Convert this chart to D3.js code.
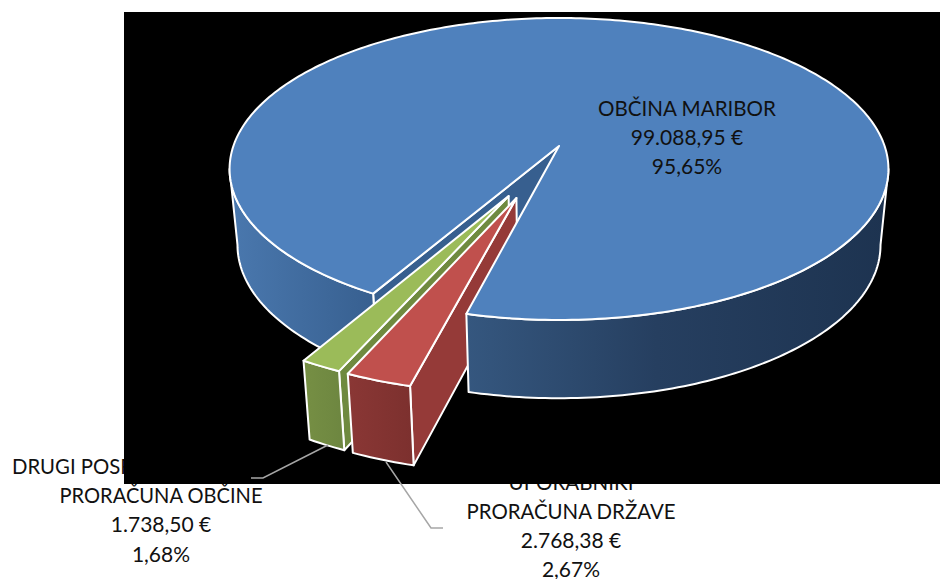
<!DOCTYPE html>
<html><head><meta charset="utf-8">
<script src="https://cdn.jsdelivr.net/npm/d3@7"></script>
<style>html,body{margin:0;padding:0;background:#fff;overflow:hidden}svg{display:block}text{font-family:Lato,sans-serif;font-size:21px;fill:#111;text-anchor:middle}</style>
</head><body><svg id="c" width="940" height="579"></svg>
<script>
const categories = ["OBČINA MARIBOR", "UPORABNIKI PRORAČUNA DRŽAVE", "DRUGI POSREDNI UPORABNIKI PRORAČUNA OBČINE"];
const values = [99088.95, 2768.38, 1738.50];
const valueLabels = ["99.088,95 €", "2.768,38 €", "1.738,50 €"];
const percentLabels = ["95,65%", "2,67%", "1,68%"];
const explode = [0, 0.357, 0.355];
const explodeTurn = [0, 1.5, -2.2];
const topColors = ["#4f81bd", "#c0504d", "#9bbb59"];

const svg = d3.select("#c");
const cx = 559, cy = 146, k = 0.152;
const sx = d3.scaleLinear().domain([-1, 1]).range([cx - 325.6, cx + 325.6]);
const sy = d3.scaleLinear().domain([-1, 1]).range([cy - 147.5, cy + 147.5]);
const rad = d => d * Math.PI / 180;

function project(u, v, low) {
  const w = 1 - k * v;
  const X = sx(u / w), Y = sy(v / w);
  if (!low) return [X, Y];
  return [cx + (X - cx) * 0.976, Y + 76 + (Y - 168) * 0.015];
}
const pie = d3.pie().sort(null).startAngle(rad(209.7)).endAngle(rad(209.7) + 2 * Math.PI);
const arcs = pie(values);
function offset(i) {
  const mid = (arcs[i].startAngle + arcs[i].endAngle) / 2 + rad(explodeTurn[i]);
  return [explode[i] * Math.sin(mid), -explode[i] * Math.cos(mid)];
}
function rim(i, a0, a1, low) {
  const [ou, ov] = offset(i), n = Math.max(2, Math.ceil(Math.abs(a1 - a0) / rad(1)));
  return d3.range(n + 1).map(j => {
    const a = a0 + (a1 - a0) * j / n;
    return project(ou + Math.sin(a), ov - Math.cos(a), low);
  });
}
function apex(i, low) { const [ou, ov] = offset(i); return project(ou, ov, low); }
const line = d3.line();
const closed = pts => line(pts) + "Z";

const defs = svg.append("defs");
function grad(id, stops) {
  const g = defs.append("linearGradient").attr("id", id);
  stops.forEach(s => g.append("stop").attr("offset", s[0]).attr("stop-color", s[1]));
}
grad("gLeft", [[0, "#4a78ae"], [1, "#375f8f"]]);
grad("gRight", [[0, "#35577f"], [0.45, "#263f60"], [1, "#1d3350"]]);
grad("gRed", [[0, "#8a3735"], [1, "#7c302e"]]);
grad("gGreen", [[0, "#768f44"], [1, "#6d8640"]]);

// labels, under the dark panel; fit = width of the line in the reference's condensed face
function label(x, y, t, fit) {
  const n = svg.append("text").attr("x", x).attr("y", y).text(t);
  if (fit) n.attr("textLength", fit).attr("lengthAdjust", "spacingAndGlyphs");
}
label(161, 474, "DRUGI POSREDNI UPORABNIKI", 298);
label(161, 503.2, "PRORAČUNA OBČINE", 203);
label(161, 532.4, valueLabels[2]);
label(161, 561.6, percentLabels[2]);
label(571, 490, "UPORABNIKI", 125);
label(571, 519.2, "PRORAČUNA DRŽAVE", 209);
label(571, 548, valueLabels[1]);
label(571, 576.5, percentLabels[1]);

svg.append("rect").attr("x", 124).attr("y", 12).attr("width", 816).attr("height", 472).attr("fill", "#000");

const blueA0 = arcs[0].startAngle, blueA1 = arcs[0].endAngle;
const silhouette = Math.acos(k) ;
const edge = {stroke: "#fff", "stroke-width": 2, "stroke-linejoin": "round"};
function face(d, fill) {
  const p = svg.append("path").attr("d", d).attr("fill", fill);
  Object.entries(edge).forEach(([a, v]) => p.attr(a, v));
}
function wall(i, a0, a1, fill) {
  face(closed(rim(i, a0, a1, false).concat(rim(i, a1, a0, true))), fill);
}
function sideWall(i, a, fill) {
  face(closed([apex(i, false), rim(i, a, a, false)[0], rim(i, a, a, true)[0], apex(i, true)]), fill);
}
function frontWall(i, fill) { wall(i, arcs[i].startAngle, arcs[i].endAngle, fill); }
function topFace(i) {
  face(closed([apex(i, false)].concat(rim(i, arcs[i].startAngle, arcs[i].endAngle, false))), topColors[i]);
}

// blue inner cut wall and left outer wall
sideWall(0, blueA0, "#375f8f");
wall(0, blueA0, Math.PI + silhouette, "url(#gLeft)");
// radial walls of the wedges sit behind the blue body
sideWall(2, arcs[2].startAngle, "#6f8a3f");
sideWall(1, arcs[1].startAngle, "#953a38");
wall(0, Math.PI - silhouette, blueA1 - 2 * Math.PI, "url(#gRight)");
// blue top
topFace(0);
// green wedge
frontWall(2, "url(#gGreen)");
topFace(2);
// red wedge
frontWall(1, "url(#gRed)");
topFace(1);

// leader lines
const leaders = [
  [[328, 445], [263, 478], [251, 478]],
  [[386, 462], [431, 528], [443, 528]]
];
leaders.forEach(l => svg.append("path").attr("d", line(l)).attr("fill", "none").attr("stroke", "#a6a6a6").attr("stroke-width", 1.5));

// main label
label(687, 116, categories[0], 178);
label(687, 145.2, valueLabels[0]);
label(687, 174.4, percentLabels[0]);
</script></body></html>
